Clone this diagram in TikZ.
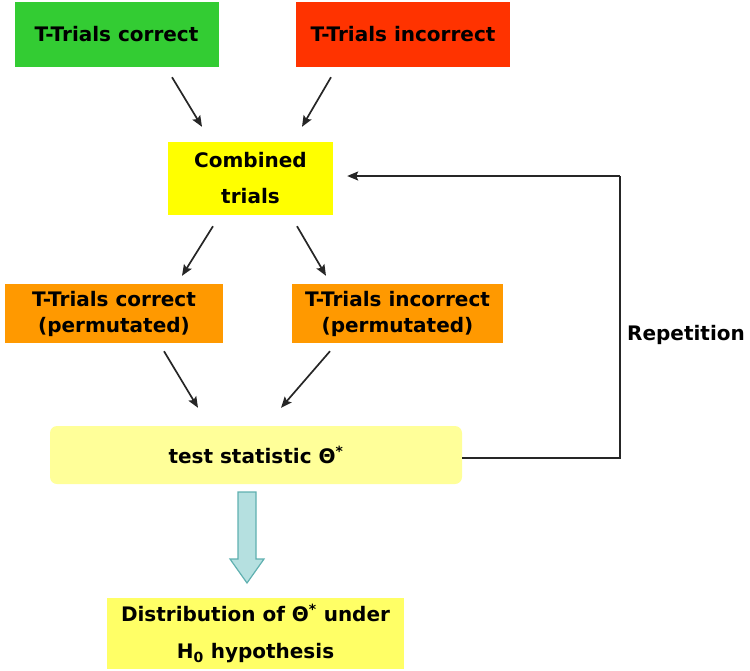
\documentclass[tikz,border=0pt]{standalone}
\usepackage{fontspec}
\setmainfont{DejaVu Sans}
\usetikzlibrary{arrows.meta,calc}
\definecolor{cgreen}{HTML}{33CC33}
\definecolor{cred}{HTML}{FF3300}
\definecolor{cyel}{HTML}{FFFF00}
\definecolor{corange}{HTML}{FF9900}
\definecolor{clight}{HTML}{FFFF99}
\definecolor{cdist}{HTML}{FFFF66}
\definecolor{cteal}{HTML}{B5E0E0}
\definecolor{ctealdark}{HTML}{5FB0B0}
\tikzset{
  box/.style={rectangle, inner sep=0pt, align=center, font=\bfseries\fontsize{20}{26}\selectfont},
  arr/.style={-{Stealth[length=11pt,width=9pt,inset=2pt]}, line width=1.7pt, black!85},
  loopline/.style={line width=1.7pt, black!85}
}
\begin{document}
\begin{tikzpicture}[x=1pt,y=-1pt]
\useasboundingbox (0,0) rectangle (750,670);
\node[box, fill=cgreen, minimum width=204, minimum height=65] (green) at (116.5,34.5) {T-Trials correct};
\node[box, fill=cred, minimum width=214, minimum height=65] (red) at (403,34.5) {T-Trials incorrect};
\node[box, fill=cyel, minimum width=165, minimum height=73, font=\bfseries\fontsize{20}{36}\selectfont] (comb) at (250.5,178.5) {Combined\\trials};
\node[box, fill=corange, minimum width=218, minimum height=59] (orL) at (114,313.5) {T-Trials correct\\(permutated)};
\node[box, fill=corange, minimum width=211, minimum height=59] (orR) at (397.5,313.5) {T-Trials incorrect\\(permutated)};
\node[box, fill=clight, rounded corners=7pt, minimum width=412, minimum height=58] (test) at (256,455) {test statistic Θ\textsuperscript{*}};
\node[box, fill=cdist, minimum width=297, minimum height=71, font=\bfseries\fontsize{20}{37}\selectfont] (dist) at (255.5,633.5) {Distribution of Θ\textsuperscript{*} under\\H\textsubscript{0} hypothesis};
\node[box, anchor=west] (rep) at (627,335) {Repetition};

\draw[arr] ([shift={(55.5,10)}]green.south) -- ([shift={(-48.5,-15)}]comb.north);
\draw[arr] ([shift={(-72,10)}]red.south) -- ([shift={(51.5,-15)}]comb.north);
\draw[arr] ([shift={(-37.5,11)}]comb.south) -- ([shift={(68,-8)}]orL.north);
\draw[arr] ([shift={(46.5,11)}]comb.south) -- ([shift={(-71.5,-8)}]orR.north);
\draw[arr] ([shift={(50,8)}]orL.south) -- ([shift={(-58,-18)}]test.north);
\draw[arr] ([shift={(-67.5,8)}]orR.south) -- ([shift={(25,-18)}]test.north);

\coordinate (lb) at (620,458);
\coordinate (lt) at (620,176);
\draw[loopline] ([shift={(0,3)}]test.east) -- (lb) -- (lt);
\draw[arr] (lt) -- ([shift={(14,-2.5)}]comb.east);

\draw[fill=cteal, draw=ctealdark, line width=1.2pt]
  (238,492) -- (256,492) -- (256,559) -- (264,559) -- (247,583) -- (230,559) -- (238,559) -- cycle;
\end{tikzpicture}
\end{document}
